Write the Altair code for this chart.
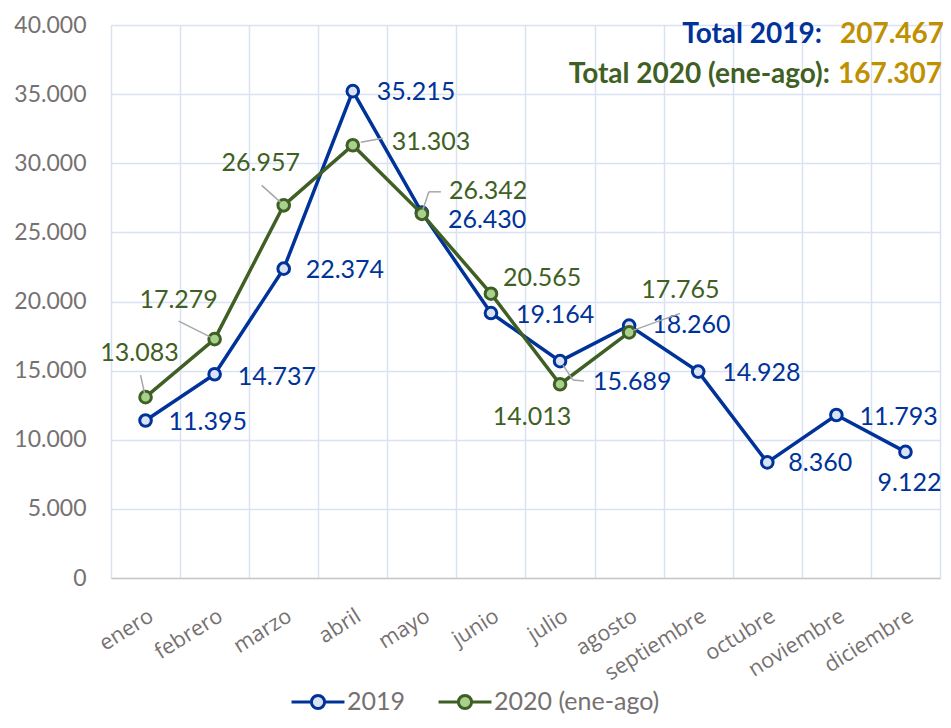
import altair as alt
import pandas as pd

# ---------------- data ----------------
meses = ["enero", "febrero", "marzo", "abril", "mayo", "junio", "julio",
         "agosto", "septiembre", "octubre", "noviembre", "diciembre"]
serie_2019 = [11395, 14737, 22374, 35215, 26430, 19164, 15689, 18260, 14928, 8360, 11793, 9122]
serie_2020 = [13083, 17279, 26957, 31303, 26342, 20565, 14013, 17765]
series = ["2019", "2020 (ene-ago)"]
y_ticks = [0, 5000, 10000, 15000, 20000, 25000, 30000, 35000, 40000]


def fmt(v):
    return f"{v:,}".replace(",", ".")


rows = []
for i, v in enumerate(serie_2019):
    rows.append(dict(mes=meses[i], idx=i, serie=series[0], valor=v, etiqueta=fmt(v)))
for i, v in enumerate(serie_2020):
    rows.append(dict(mes=meses[i], idx=i, serie=series[1], valor=v, etiqueta=fmt(v)))
df = pd.DataFrame(rows)

total_2019 = sum(serie_2019)
total_2020 = sum(serie_2020)

# ---------------- styles ----------------
BLUE = "#003399"
GREEN = "#3f5f24"
BLUE_FILL = "#dae3f3"
GREEN_FILL = "#a9d18e"
GOLD = "#bf9000"
GRID = "#d9e2f3"
GRAY_TXT = "#767171"
LEADER = "#a6a6a6"
FONT = "Lato"
LBL_SIZE = 25

# label placement (align, dx, dy) relative to each point, per series
lbl_2019 = {
    "enero": ("left", 23, 2), "febrero": ("left", 23, 3), "marzo": ("left", 22, 1),
    "abril": ("left", 24, 1), "mayo": ("left", 26, 7), "junio": ("left", 25, 2),
    "julio": ("left", 33, 21), "agosto": ("left", 23, -1), "septiembre": ("left", 24, 1),
    "octubre": ("left", 21, 1), "noviembre": ("left", 23, 2), "diciembre": ("center", 4, 31),
}
lbl_2020 = {
    "enero": ("center", -6, -44), "febrero": ("center", -36, -39), "marzo": ("center", -23, -42),
    "abril": ("left", 39, -3), "mayo": ("left", 27, -23), "junio": ("left", 12, -16),
    "julio": ("center", -28, 33), "agosto": ("left", 12, -42),
}
# leader segments (serie, mes, x1, y1, x2, y2) in pixels relative to the point
leaders = [
    (series[1], "enero", -5, -22, -1, -4),
    (series[1], "febrero", -36, -18, -4, -2),
    (series[1], "marzo", -22, -20, -3, -3),
    (series[1], "abril", 8, -3, 30, -7),
    (series[1], "mayo", 1, -4, 7, -22),
    (series[1], "mayo", 7, -22, 19, -22),
    (series[0], "julio", 3, 4, 13, 19),
    (series[0], "julio", 13, 19, 24, 20),
    (series[1], "agosto", 4, -2, 51, -19),
]

x_enc = alt.X(
    "mes:N", sort=meses, title=None,
    scale=alt.Scale(domain=meses, paddingInner=0, paddingOuter=0),
    axis=alt.Axis(
        tickBand="extent", grid=True, gridColor=GRID, gridWidth=1.5,
        ticks=False, domainColor="#c8c8c8", domainWidth=1.5,
        labelAngle=-32, labelAlign="right", labelBaseline="top", labelPadding=27,
        labelFont="Open Sans", labelFontSize=21.5, labelColor=GRAY_TXT,
    ),
)
y_enc = alt.Y(
    "valor:Q", title=None,
    scale=alt.Scale(domain=[0, 40000], nice=False),
    axis=alt.Axis(
        values=y_ticks, labelExpr="replace(format(datum.value, ','), ',', '.')",
        grid=True, gridColor=GRID, gridWidth=1.5, domain=False, ticks=False,
        labelPadding=25, labelFont=FONT, labelFontSize=23, labelColor=GRAY_TXT,
    ),
)

legend_path = "M-2,0H-0.55M0.55,0H2M-0.5,0A0.5,0.5,0,1,1,0.5,0A0.5,0.5,0,1,1,-0.5,0Z"
legend_kw = dict(
    title=None, orient="none", legendX=192, legendY=662, direction="horizontal",
    symbolType=legend_path, symbolSize=700, symbolStrokeWidth=3,
    labelFont=FONT, labelFontSize=25, labelColor=GRAY_TXT, labelLimit=400,
    labelOffset=14, columnPadding=26,
)
color_enc = alt.Color("serie:N", scale=alt.Scale(domain=series, range=[BLUE, GREEN]),
                      legend=alt.Legend(**legend_kw))
fill_enc = alt.Fill("serie:N", scale=alt.Scale(domain=series, range=[BLUE_FILL, GREEN_FILL]),
                    legend=alt.Legend(**legend_kw))

base = alt.Chart()

layers = []
for s in series:
    sel = base.transform_filter(alt.datum.serie == s)
    layers.append(
        sel.mark_line(strokeWidth=3.5).encode(x=x_enc, y=y_enc, color=color_enc, order="idx:Q")
    )
    layers.append(
        sel.mark_point(shape="circle", size=135, strokeWidth=3, opacity=1, filled=False)
        .encode(x=x_enc, y=y_enc, color=color_enc, fill=fill_enc)
    )

for s, pos, col in [(series[0], lbl_2019, BLUE), (series[1], lbl_2020, GREEN)]:
    for mes, (al, dx, dy) in pos.items():
        layers.append(
            base.transform_filter((alt.datum.serie == s) & (alt.datum.mes == mes))
            .mark_text(align=al, baseline="middle", dx=dx, dy=dy, font=FONT,
                       fontSize=LBL_SIZE, color=col)
            .encode(x=x_enc, y=y_enc, text="etiqueta:N")
        )

for s, mes, x1, y1, x2, y2 in leaders:
    layers.append(
        base.transform_filter((alt.datum.serie == s) & (alt.datum.mes == mes))
        .mark_rule(color=LEADER, strokeWidth=1.5, xOffset=x1, yOffset=y1,
                   x2Offset=x2, y2Offset=y2)
        .encode(x=x_enc, x2="mes", y=y_enc, y2="valor")
    )

# totals (top right)
tot = pd.DataFrame({"t": [0]})
tot_specs = [
    ("Total 2019:", BLUE, "right", 711, 18),
    (fmt(total_2019), GOLD, "left", 729, 18),
    ("Total 2020 (ene-ago):", GREEN, "right", 719, 58),
    (fmt(total_2020), GOLD, "left", 727, 58),
]
for txt, col, al, xx, yy in tot_specs:
    layers.append(
        alt.Chart(tot).mark_text(align=al, baseline="alphabetic", font=FONT, fontSize=28,
                                 fontWeight="bold", color=col)
        .encode(x=alt.value(xx), y=alt.value(yy), text=alt.value(txt))
    )

chart = (
    alt.layer(*layers, data=df)
    .properties(
        width=829, height=553,
        autosize=alt.AutoSizeParams(type="none"),
        padding={"left": 103, "top": 17, "right": 3, "bottom": 138},
    )
    .configure_view(stroke=None)
    .configure(background="white")
)

chart.save("out.html", embed_options={"renderer": "svg", "actions": False})
